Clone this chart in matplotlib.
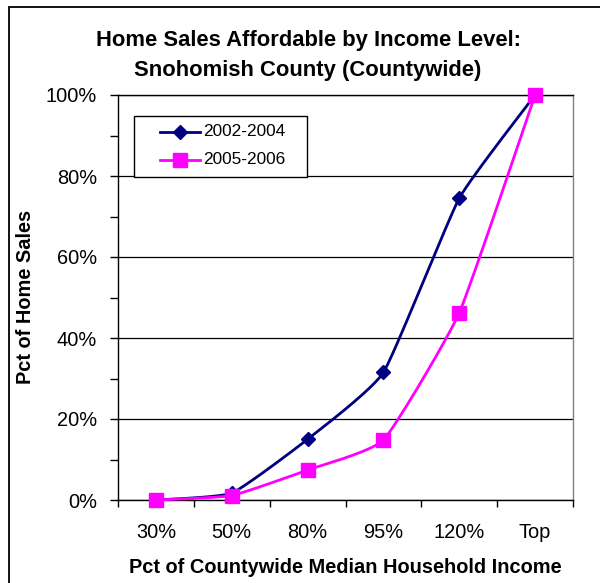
import numpy as np
import matplotlib
matplotlib.use("Agg")
import matplotlib.pyplot as plt
from matplotlib.patches import Rectangle
from matplotlib.lines import Line2D

plt.rcParams["font.family"] = ["Liberation Sans", "DejaVu Sans"]

# data
categories = ["30%", "50%", "80%", "95%", "120%", "Top"]
sales_2002_2004 = [0.0, 1.7, 15.0, 31.5, 74.5, 100.0]
sales_2005_2006 = [0.0, 1.1, 7.4, 14.8, 46.2, 100.0]
series_names = ["2002-2004", "2005-2006"]

NAVY = "#000080"
MAGENTA = "#FF00FF"


def smooth(xs, ys, yscale, tension=1 / 14.0, n=30):
    # light Excel-like smoothing between the points, in screen proportions
    p = np.column_stack([xs, np.asarray(ys) * yscale])
    pts = np.vstack([p[0], p, p[-1]])
    out = []
    for i in range(1, len(pts) - 2):
        p0, p1, p2, p3 = pts[i - 1], pts[i], pts[i + 1], pts[i + 2]
        c1 = p1 + (p2 - p0) * tension
        c2 = p2 - (p3 - p1) * tension
        t = np.linspace(0, 1, n)[:, None]
        seg = ((1 - t) ** 3) * p1 + 3 * ((1 - t) ** 2) * t * c1 + 3 * (1 - t) * t ** 2 * c2 + t ** 3 * p2
        out.append(seg if i == 1 else seg[1:])
    out = np.vstack(out)
    return out[:, 0], out[:, 1] / yscale


W, H = 600, 583
fig = plt.figure(figsize=(W / 100, H / 100), dpi=100)


def px(xp, yp):
    return xp / W, 1 - yp / H


# outer chart border (left/top visible, rest cropped)
fig.patches.append(Rectangle((9 / W, -0.1), 2.0, 1 - 7 / H + 0.1, transform=fig.transFigure,
                             fill=False, edgecolor="black", linewidth=1.3))

left, right, top, bottom = 118, 573, 95, 500
ax = fig.add_axes([left / W, 1 - bottom / H, (right - left) / W, (bottom - top) / H])

x = np.arange(len(categories))
yscale = ((bottom - top) / 100.0) / ((right - left) / len(categories))

styles = [(sales_2002_2004, NAVY, "D", 7), (sales_2005_2006, MAGENTA, "s", 9.5)]
for vals, col, mk, ms in styles:
    sx, sy = smooth(x, vals, yscale)
    ax.plot(sx, sy, color=col, linewidth=2, zorder=3, clip_on=False)
    ax.plot(x, vals, linestyle="none", marker=mk, markersize=ms, color=col,
            markeredgecolor=col, zorder=4, clip_on=False)

ax.set_xlim(-0.5, len(categories) - 0.5)
ax.set_ylim(0, 100)

# y axis
ax.set_yticks(np.arange(0, 101, 20))
ax.set_yticks(np.arange(10, 100, 20), minor=True)
ax.set_yticklabels([f"{v}%" for v in range(0, 101, 20)], fontsize=14.4)
ax.tick_params(axis="y", which="both", direction="out", length=6, width=1, pad=9, color="black")
ax.yaxis.grid(True, which="major", color="black", linewidth=0.9)
ax.set_axisbelow(True)

# x axis: ticks between categories, labels centred
ax.set_xticks(np.arange(-0.5, len(categories), 1.0))
ax.set_xticklabels([])
ax.set_xticks(x, minor=True)
ax.set_xticklabels(categories, minor=True, fontsize=14.4)
ax.tick_params(axis="x", which="major", direction="out", length=5, width=1, color="black")
ax.tick_params(axis="x", which="minor", length=0, pad=16.5)

ax.spines["right"].set_color("#808080")
ax.spines["top"].set_color("black")
for s in ax.spines.values():
    s.set_linewidth(1)

fig.text(*px(308, 46), "Home Sales Affordable by Income Level:", ha="center",
         va="baseline", fontsize=15.8, fontweight="bold")
fig.text(*px(308, 76), "Snohomish County (Countywide)", ha="center",
         va="baseline", fontsize=15.8, fontweight="bold")
fig.text(*px(26, 297), "Pct of Home Sales", rotation=90, ha="center", va="center",
         fontsize=14.4, fontweight="bold")
fig.text(*px(345, 573), "Pct of Countywide Median Household Income", ha="center",
         va="baseline", fontsize=14.4, fontweight="bold")

# legend box drawn like Excel's
x0, y0 = px(134, 177)
x1, y1 = px(307, 116)
fig.patches.append(Rectangle((x0, y0), x1 - x0, y1 - y0, transform=fig.transFigure,
                             facecolor="white", edgecolor="black", linewidth=1, zorder=5))
for (vals, col, mk, ms), name, yrow in zip(styles, series_names, [132, 160]):
    fig.add_artist(Line2D([160 / W, 200 / W], [1 - yrow / H] * 2, transform=fig.transFigure,
                          color=col, linewidth=2, zorder=6))
    fig.add_artist(Line2D([180 / W], [1 - yrow / H], transform=fig.transFigure, marker=mk,
                          markersize=ms, color=col, zorder=7))
    fig.text(*px(203, yrow), name, ha="left", va="center", fontsize=12.4, zorder=7)

fig.savefig("out.png", dpi=100)
